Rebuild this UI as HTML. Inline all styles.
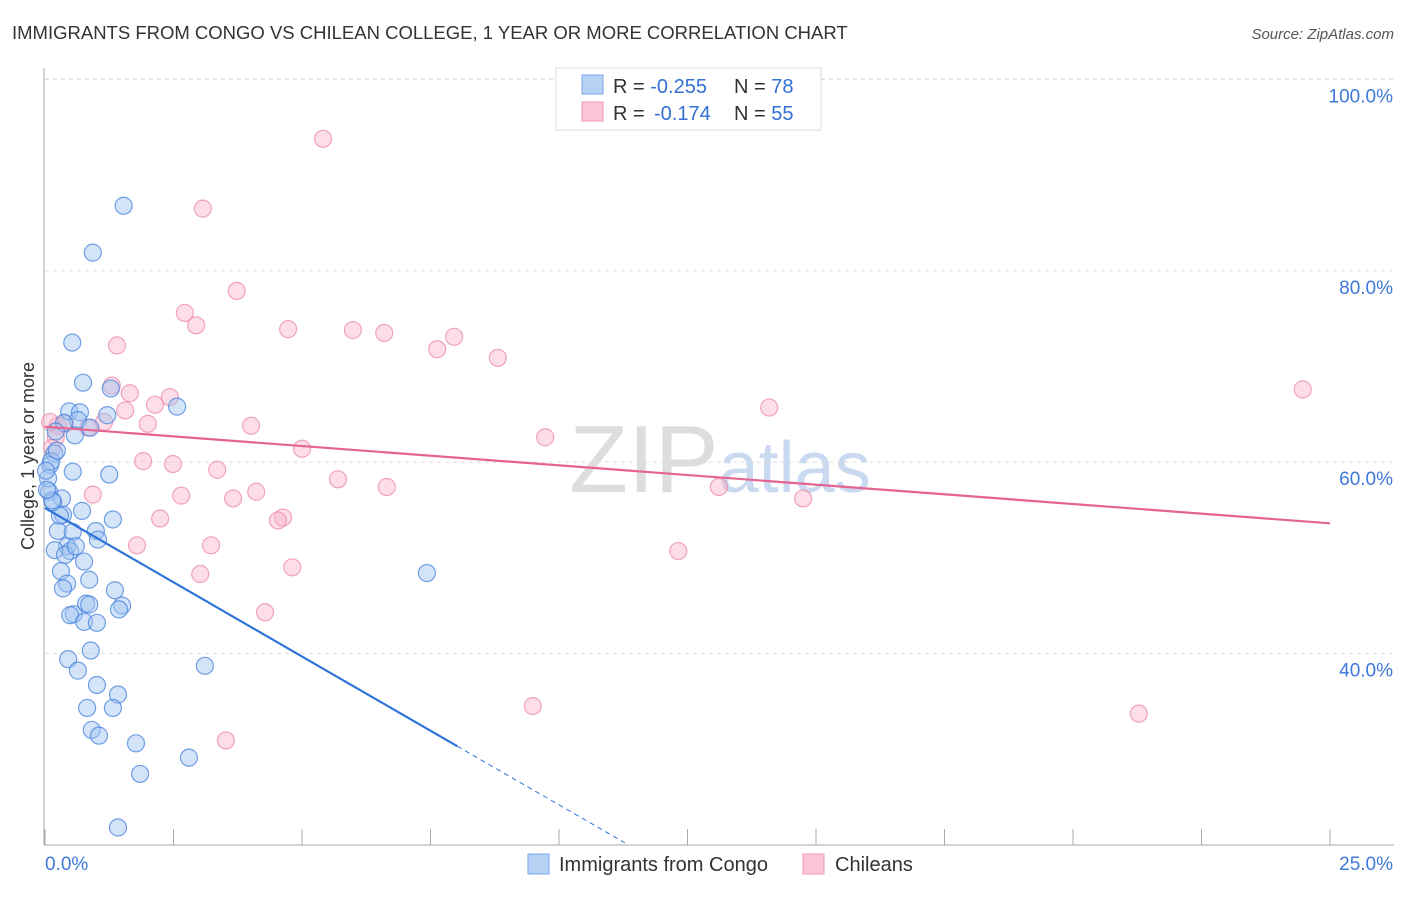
<!DOCTYPE html>
<html><head><meta charset="utf-8"><style>
body{margin:0;background:#fff;font-family:"Liberation Sans",sans-serif;}
svg text{font-family:"Liberation Sans",sans-serif;}
</style></head><body>
<svg id="chart" width="1406" height="892">
<text x="12" y="39" font-size="18.5" fill="#333">IMMIGRANTS FROM CONGO VS CHILEAN COLLEGE, 1 YEAR OR MORE CORRELATION CHART</text>
<text x="1394" y="39" font-size="15" fill="#555" text-anchor="end" font-style="italic">Source: ZipAtlas.com</text>
<text x="720" y="492" font-size="96" fill="#ddd" text-anchor="middle" font-family="Liberation Serif">ZIP<tspan fill="#c9d9ef" font-family="Liberation Sans" font-size="72">atlas</tspan></text>
<g id="grid"></g><g id="axes"></g><g id="marks"></g>
<g>
<rect x="556" y="68" width="265" height="62" fill="#fff" stroke="#ddd"/>
<rect x="582" y="75" width="21" height="19" fill="#b7d1f5" stroke="#7aa7e6"/>
<rect x="582" y="102" width="21" height="19" fill="#fcc6d6" stroke="#f19ab6"/>
<text x="613" y="93" font-size="20" fill="#333">R = <tspan fill="#3370d6">-0.255</tspan><tspan x="734">N = </tspan><tspan fill="#3370d6">78</tspan></text>
<text x="613" y="120" font-size="20" fill="#333">R = <tspan fill="#3370d6" x="654">-0.174</tspan><tspan x="734">N = </tspan><tspan fill="#3370d6">55</tspan></text>
</g>
<g>
<rect x="528" y="854" width="21" height="20" fill="#b7d1f5" stroke="#7aa7e6"/>
<text x="559" y="871" font-size="20" fill="#333">Immigrants from Congo</text>
<rect x="803" y="854" width="21" height="20" fill="#fcc6d6" stroke="#f19ab6"/>
<text x="835" y="871" font-size="20" fill="#333">Chileans</text>
</g>
<text transform="translate(34,456) rotate(-90)" font-size="18" fill="#333" text-anchor="middle">College, 1 year or more</text>
</svg>
<script>
const xTicks=[0,2.5,5,7.5,10,12.5,15,17.5,20,22.5,25];
const yTicks=[40,60,80,100];
const yTickLabels=["40.0%","60.0%","80.0%","100.0%"];
const congoX=[1.53,0.93,0.53,0.74,1.28,2.57,0.47,0.68,1.21,0.64,0.37,0.88,0.21,0.58,0.18,0.10,0.54,1.25,0.08,0.33,0.16,0.35,1.32,0.25,0.99,0.54,1.03,0.43,0.19,0.49,0.39,0.60,0.76,0.31,0.86,0.43,0.35,1.36,0.56,0.49,0.80,0.86,1.50,1.44,0.76,1.01,0.89,0.45,0.64,3.11,1.01,1.42,0.82,1.32,0.91,1.05,1.77,2.80,1.85,1.42,7.43,0.12,0.06,0.14,0.02,0.23,0.04,0.29,0.72];
const congoY=[86.8,81.9,72.5,68.3,67.7,65.8,65.3,65.2,64.9,64.4,64.1,63.6,63.2,62.8,60.9,59.7,59.0,58.7,56.9,56.2,55.8,54.5,54.0,52.8,52.8,52.7,51.9,51.2,50.8,50.7,50.3,51.2,49.6,48.6,47.7,47.3,46.8,46.6,44.1,44.0,45.2,45.1,45.0,44.6,43.3,43.2,40.3,39.4,38.2,38.7,36.7,35.7,34.3,34.3,32.0,31.4,30.6,29.1,27.4,21.8,48.4,60.1,58.3,56.0,59.1,61.2,57.1,54.4,54.9];
const chileX=[5.41,3.07,3.73,2.72,2.94,4.73,5.99,6.60,7.96,7.63,8.81,1.40,1.30,1.65,2.43,1.56,2.14,1.15,2.00,4.01,0.84,0.25,0.39,9.73,5.00,1.91,2.49,3.35,0.93,2.65,3.66,4.11,5.70,6.65,2.24,4.63,4.53,1.79,3.23,4.81,3.02,4.28,12.32,13.11,14.75,14.09,24.47,9.49,21.28,3.52,0.21,0.14,0.10];
const chileY=[93.8,86.5,77.9,75.6,74.3,73.9,73.8,73.5,73.1,71.8,70.9,72.2,68.0,67.2,66.8,65.4,66.0,64.2,64.0,63.8,63.6,63.8,64.0,62.6,61.4,60.1,59.8,59.2,56.6,56.5,56.2,56.9,58.2,57.4,54.1,54.2,53.9,51.3,51.3,49.0,48.3,44.3,50.7,57.4,56.2,65.7,67.6,34.5,33.7,30.9,62.6,61.5,64.2];
const congoTrend=[[0,55.2],[8.02,30.3]];
const congoTrendDash=[[8.02,30.3],[11.28,20.2]];
const chileTrend=[[0,63.7],[25,53.6]];
const X=v=>45+v/25*1285, Y=v=>1036-v*9.565;
const NS="http://www.w3.org/2000/svg";
function mk(tag,attrs,parent){const e=document.createElementNS(NS,tag);for(const k in attrs)e.setAttribute(k,attrs[k]);document.getElementById(parent).appendChild(e);return e;}
yTicks.forEach((t,i)=>{
  const g=mk("line",{x1:45,x2:1394,y1:Y(t),y2:Y(t),stroke:"#ddd","stroke-dasharray":"4,4"},"grid");
  
  
  const l=mk("text",{x:1393,y:Y(t)+23,"font-size":19,fill:"#3f78d8","text-anchor":"end"},"axes");
  l.textContent=yTickLabels[i];
  
  
});
const topLine=mk("line",{x1:45,x2:1394,y1:79,y2:79,stroke:"#ddd","stroke-dasharray":"4,4"},"grid");


mk("line",{x1:44,x2:44,y1:68,y2:845,stroke:"#aaa"},"axes");
mk("line",{x1:44,x2:1394,y1:845,y2:845,stroke:"#aaa"},"axes");
xTicks.forEach(t=>{
  const tk=mk("line",{x1:X(t),x2:X(t),y1:829,y2:845,stroke:"#aaa"},"axes");
  
  
});
const x0=mk("text",{x:45,y:870,"font-size":19,fill:"#3f78d8"},"axes");x0.textContent="0.0%";


const x1=mk("text",{x:1393,y:870,"font-size":19,fill:"#3f78d8","text-anchor":"end"},"axes");x1.textContent="25.0%";


chileX.forEach((v,i)=>{
  const c=mk("circle",{cx:X(v),cy:Y(chileY[i]),r:8.5,fill:"rgba(249,180,203,0.45)",stroke:"rgba(235,130,165,0.7)","stroke-width":1.2},"marks");
  
  
});
congoX.forEach((v,i)=>{
  const c=mk("circle",{cx:X(v),cy:Y(congoY[i]),r:8.5,fill:"rgba(160,195,240,0.45)",stroke:"rgba(70,130,220,0.75)","stroke-width":1.2},"marks");
  
  
});
const pl=mk("line",{x1:X(chileTrend[0][0]),y1:Y(chileTrend[0][1]),x2:X(chileTrend[1][0]),y2:Y(chileTrend[1][1]),stroke:"#e5648f","stroke-width":2.2},"marks");


const bl=mk("line",{x1:X(congoTrend[0][0]),y1:Y(congoTrend[0][1]),x2:X(congoTrend[1][0]),y2:Y(congoTrend[1][1]),stroke:"#2f74d8","stroke-width":2.2},"marks");


const bd=mk("line",{x1:X(congoTrendDash[0][0]),y1:Y(congoTrendDash[0][1]),x2:X(congoTrendDash[1][0]),y2:Y(congoTrendDash[1][1]),stroke:"#2f74d8","stroke-width":1,"stroke-dasharray":"5,4"},"marks");


</script>
</body></html>
